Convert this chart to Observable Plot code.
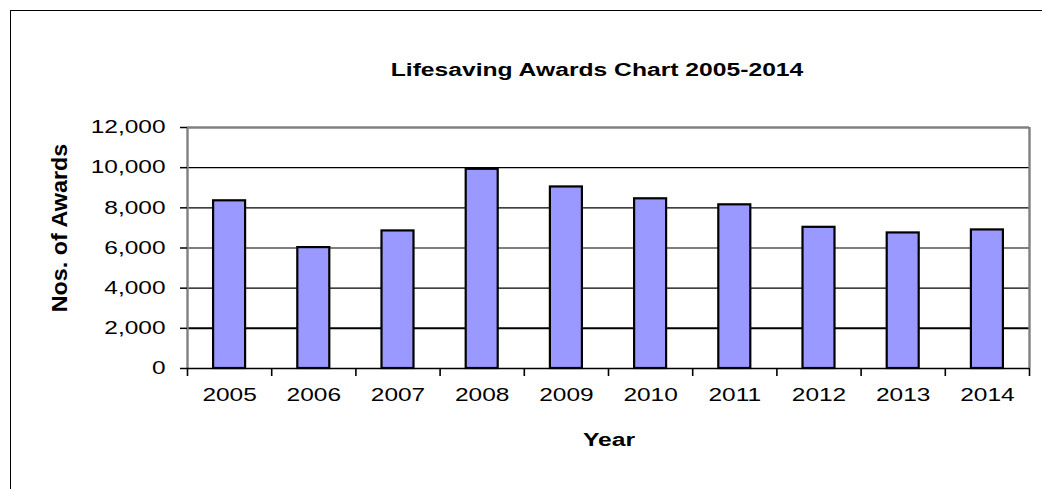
<!DOCTYPE html>
<html>
<head>
<meta charset="utf-8">
<script src="https://cdn.jsdelivr.net/npm/d3@7"></script>
<script src="https://cdn.jsdelivr.net/npm/@observablehq/plot@0.6"></script>
<style>
  html, body { margin: 0; padding: 0; background: #fff; }
  #wrap { position: relative; width: 1042px; height: 489px; overflow: hidden; font-family: "Liberation Sans", Arial, sans-serif; color: #000; }
  #chart { position: absolute; left: 0; top: 0; }
  .frame { position: absolute; left: 10px; top: 10px; width: 1100px; height: 600px; border-left: 1px solid #000; border-top: 1px solid #000; pointer-events: none; }
  .lbl { position: absolute; white-space: nowrap; line-height: 1; font-weight: bold; }
  #title { left: 597px; top: 70px; font-size: 18px; transform: translate(-50%, -50%) scaleX(1.37); }
  #xlabel { left: 609px; top: 440px; font-size: 18px; transform: translate(-50%, -50%) scaleX(1.37); }
  #ylabel { left: 60px; top: 228px; font-size: 22px; transform: translate(-50%, -50%) rotate(-90deg) scaleX(1.06); }
</style>
</head>
<body>
<div id="wrap">
  <div id="chart"></div>
  <div class="frame"></div>
  <div class="lbl" id="title">Lifesaving Awards Chart 2005-2014</div>
  <div class="lbl" id="ylabel">Nos. of Awards</div>
  <div class="lbl" id="xlabel">Year</div>
</div>
<script>
const years = [2005, 2006, 2007, 2008, 2009, 2010, 2011, 2012, 2013, 2014];
const awards = [8350, 6020, 6850, 9920, 9040, 8450, 8150, 7030, 6750, 6900];
const yTicks = [0, 2000, 4000, 6000, 8000, 10000, 12000];
const gridValues = [2000, 4000, 6000, 8000, 10000];

const data = years.map((year, i) => ({year, awards: awards[i]}));
const edges = years.map(y => y - 0.5).concat([years[years.length - 1] + 0.5]);
const yMax = yTicks[yTicks.length - 1];

const chart = Plot.plot({
  width: 1042,
  height: 489,
  marginLeft: 187,
  marginRight: 13,
  marginTop: 127,
  marginBottom: 121,
  style: {fontFamily: "'Liberation Sans', Arial, sans-serif", background: "transparent", color: "#000"},
  x: {domain: [edges[0], edges[edges.length - 1]], axis: null},
  y: {domain: [0, yMax], axis: null},
  marks: [
    Plot.ruleY(gridValues, {stroke: "#000", strokeWidth: d => d === 2000 ? 2 : 1.2}),
    Plot.ruleY([yMax], {stroke: "#808080", strokeWidth: 2.6}),
    Plot.ruleX([edges[edges.length - 1]], {stroke: "#808080", strokeWidth: 2.4}),
    Plot.rectY(data, {x1: d => d.year - 0.19, x2: d => d.year + 0.19, y: "awards", fill: "#9999ff", stroke: "#000", strokeWidth: 2.2}),
    Plot.ruleX([edges[0]], {stroke: "#808080", strokeWidth: 2.4}),
    Plot.ruleY([0], {stroke: "#000", strokeWidth: 1.6}),
    Plot.axisY(yTicks, {label: null, tickSize: 7, tickPadding: 15, strokeWidth: 1.5, stroke: "#000", fontSize: 18, tickFormat: d3.format(",")}),
    Plot.axisX(edges, {label: null, tickSize: 8, strokeWidth: 1.6, stroke: "#000", tickFormat: () => ""}),
    Plot.axisX(years, {label: null, tickSize: 0, tickPadding: 20, fontSize: 18, tickFormat: d => String(d)})
  ]
});

// stretch axis tick label glyphs horizontally, as in the reference
chart.querySelectorAll("text").forEach(t => {
  let tr = t.getAttribute("transform") || "";
  if (t.hasAttribute("x")) {
    const x = +t.getAttribute("x") || 0;
    t.removeAttribute("x");
    tr += ` translate(${x},0)`;
  }
  t.setAttribute("transform", tr + " scale(1.36,1)");
});

document.getElementById("chart").appendChild(chart);
</script>
</body>
</html>
